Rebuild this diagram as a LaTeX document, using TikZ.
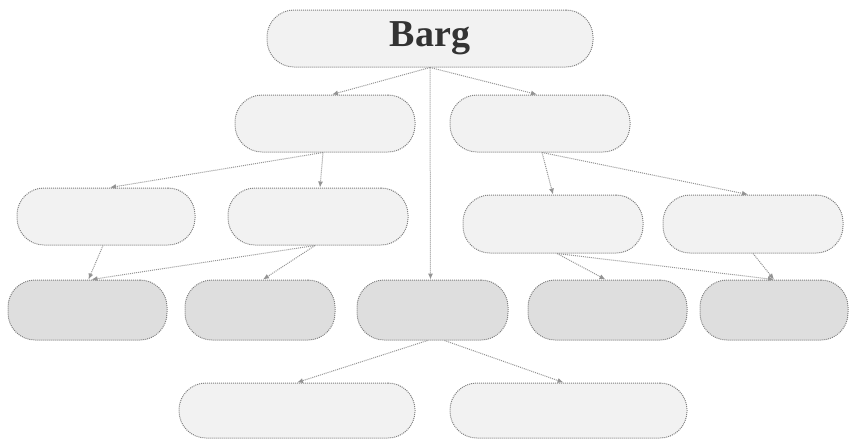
\documentclass[tikz,border=0pt]{standalone}
\usepackage{fontspec}
\setmainfont{Liberation Serif}
\usepackage{tikz}
\usetikzlibrary{arrows.meta}

\begin{document}
\begin{tikzpicture}[
    x=1pt, y=-1pt,
    box/.style={
        draw=gray,
        densely dotted,
        line width=1pt,
        rounded corners=27pt,
        left color=gray!10,
        middle color=gray!28,
        right color=gray!10,
        minimum height=57pt,
        inner sep=0pt
    },
    darkbox/.style={
        box,
        left color=gray!26,
        middle color=gray!46,
        right color=gray!26,
        minimum height=60pt
    },
    arrow/.style={
        -{Latex[length=6pt,width=5pt]},
        densely dotted,
        draw=gray!85,
        line width=1pt
    }
]
\useasboundingbox (0,0) rectangle (854,440);

% Top
\node[box, minimum width=326pt, font=\fontsize{38}{42}\selectfont\bfseries, text=black!80] (barg) at (430,38.5) {Barg};

% Second row
\node[box, minimum width=180pt] (left) at (325,123.5) {};
\node[box, minimum width=180pt] (right) at (540,123.5) {};

% Third row
\node[box, minimum width=178pt] (la) at (106,216.5) {};
\node[box, minimum width=180pt] (lb) at (318,216.5) {};
\node[box, minimum width=180pt, minimum height=58pt] (ra) at (553,224) {};
\node[box, minimum width=180pt, minimum height=58pt] (rb) at (753,224) {};

% Dark row
\node[darkbox, minimum width=159pt] (d1) at (87.5,310) {};
\node[darkbox, minimum width=150pt] (d2) at (260,310) {};
\node[darkbox, minimum width=151pt] (d3) at (432.5,310) {};
\node[darkbox, minimum width=159pt] (d4) at (607.5,310) {};
\node[darkbox, minimum width=148pt] (d5) at (774,310) {};

% Bottom
\node[box, minimum width=236pt, minimum height=55pt] (f1) at (297,410.5) {};
\node[box, minimum width=237pt, minimum height=55pt] (f2) at (568.5,410.5) {};

% Arrows
\draw[arrow] (barg.south) -- ([xshift=7pt]left.north);
\draw[arrow] (barg.south) -- ([xshift=-3pt]right.north);
\draw[arrow] (barg.south) -- ([xshift=-2pt]d3.north);
\draw[arrow] ([xshift=-2pt]left.south) -- ([xshift=4pt]la.north);
\draw[arrow] ([xshift=-2pt]left.south) -- ([xshift=2pt]lb.north);
\draw[arrow] ([xshift=2pt]right.south) -- (ra.north);
\draw[arrow] ([xshift=2pt]right.south) -- ([xshift=-5pt]rb.north);
\draw[arrow] ([xshift=-3pt]la.south) -- ([xshift=1pt]d1.north);
\draw[arrow] ([xshift=-3pt]lb.south) -- ([xshift=4pt]d1.north);
\draw[arrow] ([xshift=-3pt]lb.south) -- ([xshift=3pt]d2.north);
\draw[arrow] ([xshift=4pt]ra.south) -- ([xshift=-2pt]d4.north);
\draw[arrow] ([xshift=4pt]ra.south) -- (d5.north);
\draw[arrow] (rb.south) -- (d5.north);
\draw[arrow] ([xshift=-5pt]d3.south) -- (f1.north);
\draw[arrow] ([xshift=12pt]d3.south) -- ([xshift=-5pt]f2.north);

\end{tikzpicture}
\end{document}
